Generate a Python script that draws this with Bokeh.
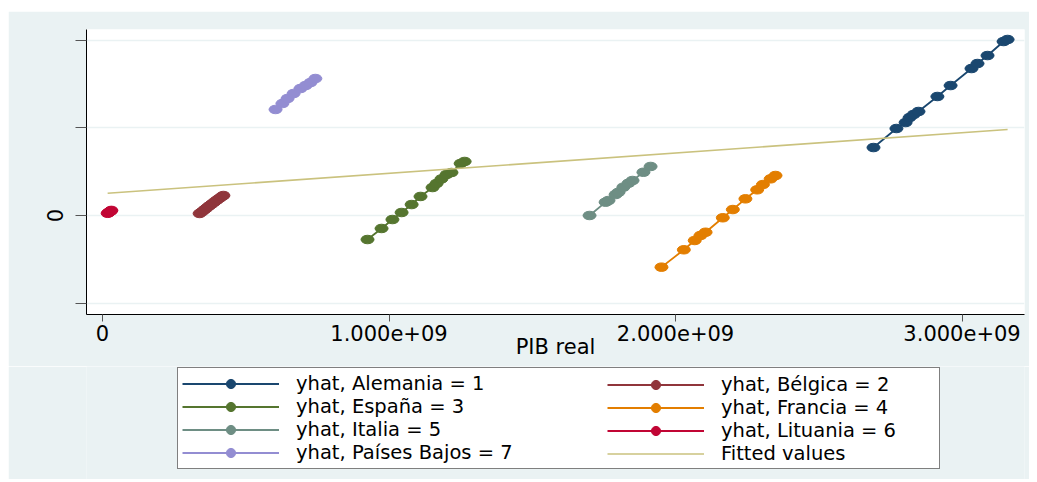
from bokeh.plotting import figure
from bokeh.models import (Legend, LegendItem, FixedTicker, Range1d, ColumnDataSource, Spacer)
from bokeh.layouts import column, row
from bokeh.embed import file_html
from bokeh.resources import INLINE

# ---------------- data ----------------
alemania_x = [2.691e9, 2.771e9, 2.803e9, 2.817e9, 2.831e9, 2.848e9, 2.914e9, 2.960e9,
              3.033e9, 3.054e9, 3.089e9, 3.145e9, 3.159e9]
alemania_y = [0.775, 0.992, 1.060, 1.117, 1.152, 1.186, 1.357, 1.482, 1.676, 1.733, 1.824, 1.984, 2.007]

belgica_x = [0.339e9, 0.348e9, 0.356e9, 0.364e9, 0.372e9, 0.381e9, 0.390e9, 0.399e9, 0.408e9, 0.416e9, 0.422e9]
belgica_y = [0.023, 0.045, 0.066, 0.087, 0.108, 0.130, 0.152, 0.175, 0.196, 0.215, 0.228]

espana_x = [0.925e9, 0.974e9, 1.012e9, 1.044e9, 1.079e9, 1.110e9, 1.152e9, 1.166e9,
            1.183e9, 1.201e9, 1.218e9, 1.250e9, 1.264e9]
espana_y = [-0.274, -0.148, -0.046, 0.034, 0.125, 0.217, 0.319, 0.365, 0.417, 0.468, 0.490, 0.593, 0.616]

francia_x = [1.951e9, 2.029e9, 2.067e9, 2.087e9, 2.105e9, 2.165e9, 2.200e9, 2.244e9,
             2.285e9, 2.305e9, 2.332e9, 2.349e9]
francia_y = [-0.589, -0.391, -0.285, -0.228, -0.191, -0.026, 0.068, 0.190, 0.293, 0.353, 0.418, 0.456]

italia_x = [1.700e9, 1.756e9, 1.766e9, 1.791e9, 1.801e9, 1.818e9, 1.836e9, 1.850e9, 1.888e9, 1.913e9]
italia_y = [0.000, 0.152, 0.171, 0.239, 0.265, 0.323, 0.368, 0.399, 0.493, 0.559]

lituania_x = [0.018e9, 0.021e9, 0.024e9, 0.027e9, 0.029e9, 0.031e9]
lituania_y = [0.025, 0.032, 0.040, 0.047, 0.052, 0.058]

paises_bajos_x = [0.604e9, 0.628e9, 0.646e9, 0.667e9, 0.691e9, 0.709e9, 0.726e9, 0.743e9]
paises_bajos_y = [1.209, 1.277, 1.334, 1.391, 1.448, 1.482, 1.516, 1.562]

fitted_x = [0.018e9, 3.159e9]
fitted_y = [0.254, 0.981]

series_names = ["yhat, Alemania = 1", "yhat, Bélgica = 2", "yhat, España = 3",
                "yhat, Francia = 4", "yhat, Italia = 5", "yhat, Lituania = 6",
                "yhat, Países Bajos = 7"]
fitted_name = "Fitted values"

x_tick_values = [0, 1e9, 2e9, 3e9]
x_tick_labels = ["0", "1.000e+09", "2.000e+09", "3.000e+09"]
y_tick_values = [-1, 0, 1, 2]
y_tick_labels = ["", "0", "", ""]

# ---------------- styling ----------------
colors = ["#1a476f", "#90353b", "#55752f", "#e37e00", "#6e8e84", "#c10534", "#938dd2"]
fit_color = "#cac27e"
bg = "#eaf2f3"
FONT = "DejaVu Sans"
W = 1021

p = figure(width=W, height=355, output_backend="svg", toolbar_location=None,
           x_range=Range1d(-0.0558e9, 3.218e9), y_range=Range1d(-1.129, 2.121),
           min_border_left=78, min_border_right=5, min_border_top=18, min_border_bottom=52)
p.border_fill_color = bg
p.background_fill_color = "white"
p.outline_line_color = None

p.xgrid.grid_line_color = None
p.ygrid.grid_line_color = bg
p.ygrid.grid_line_width = 1.5

p.xaxis.ticker = FixedTicker(ticks=x_tick_values)
p.xaxis.major_label_overrides = dict(zip(x_tick_values, x_tick_labels))
p.yaxis.ticker = FixedTicker(ticks=y_tick_values)
p.yaxis.major_label_overrides = dict(zip(y_tick_values, y_tick_labels))
p.yaxis.major_label_orientation = "vertical"

for ax in (p.xaxis, p.yaxis):
    ax.axis_line_color = "black"
    ax.axis_line_width = 1
    ax.major_tick_line_color = "#555555"
    ax.major_tick_line_width = 1
    ax.major_tick_in = 0
    ax.minor_tick_line_color = None
    ax.major_label_text_font = FONT
    ax.major_label_text_font_size = "21px"
    ax.major_label_text_color = "black"

p.xaxis.major_tick_out = 7
p.xaxis.major_label_standoff = 3
p.yaxis.major_tick_out = 11
p.yaxis.major_label_standoff = 12

p.xaxis.axis_label = "PIB real"
p.xaxis.axis_label_text_font = FONT
p.xaxis.axis_label_text_font_size = "21px"
p.xaxis.axis_label_text_font_style = "normal"
p.xaxis.axis_label_text_color = "black"
p.xaxis.axis_label_standoff = -9

all_x = [alemania_x, belgica_x, espana_x, francia_x, italia_x, lituania_x, paises_bajos_x]
all_y = [alemania_y, belgica_y, espana_y, francia_y, italia_y, lituania_y, paises_bajos_y]

for xs, ys, c in zip(all_x, all_y, colors):
    src = ColumnDataSource(dict(x=xs, y=ys))
    p.line("x", "y", source=src, line_color=c, line_width=1.8)
    p.ellipse("x", "y", source=src, width=13, height=8.5, width_units="screen",
              height_units="screen", fill_color=c, line_color=c)

fit_src = ColumnDataSource(dict(x=fitted_x, y=fitted_y))
p.line("x", "y", source=fit_src, line_color=fit_color, line_width=1.6)

# ---------------- legend panel (separate figure below) ----------------
LH = 113
lg = figure(width=W, height=LH, output_backend="svg", toolbar_location=None,
            x_range=Range1d(0, 10), y_range=Range1d(0, 10),
            x_axis_type=None, y_axis_type=None,
            min_border_left=0, min_border_right=0, min_border_top=0, min_border_bottom=0)
lg.border_fill_color = bg
lg.background_fill_color = bg
lg.outline_line_color = None
lg.grid.grid_line_color = None

# legend-only renderers: points lie outside the visible range of this panel
off = dict(x=[-100, -99], y=[-100, -99])
items = []
for c, name in zip(colors, series_names):
    lr = lg.line(x=off["x"], y=off["y"], line_color=c, line_width=1.8)
    dot = lg.scatter(x=off["x"], y=off["y"], marker="circle", size=10,
                     fill_color=c, line_color=c)
    items.append(LegendItem(label=name, renderers=[lr, dot]))
fr = lg.line(x=off["x"], y=off["y"], line_color=fit_color, line_width=1.6)
items.append(LegendItem(label=fitted_name, renderers=[fr]))

left_items = [items[0], items[2], items[4], items[6]]
right_items = [items[1], items[3], items[5], items[7]]

common = dict(label_text_font=FONT, label_text_font_size="19.5px", label_text_color="black",
              glyph_width=97, glyph_height=23, label_height=23, label_standoff=17,
              padding=4, spacing=0, margin=0)

leg1 = Legend(items=left_items, location=(91, 10), label_width=639,
              border_line_color="black", border_line_width=1,
              background_fill_color="white", background_fill_alpha=1.0, **common)
leg2 = Legend(items=right_items, location=(517, 10),
              border_line_alpha=0, background_fill_alpha=0, **common)
lg.add_layout(leg1)
lg.add_layout(leg2)

layout = column(Spacer(height=11),
                row(Spacer(width=8), column(p, lg, spacing=0), spacing=0),
                spacing=0)

open("out.html", "w").write(file_html(layout, INLINE))
